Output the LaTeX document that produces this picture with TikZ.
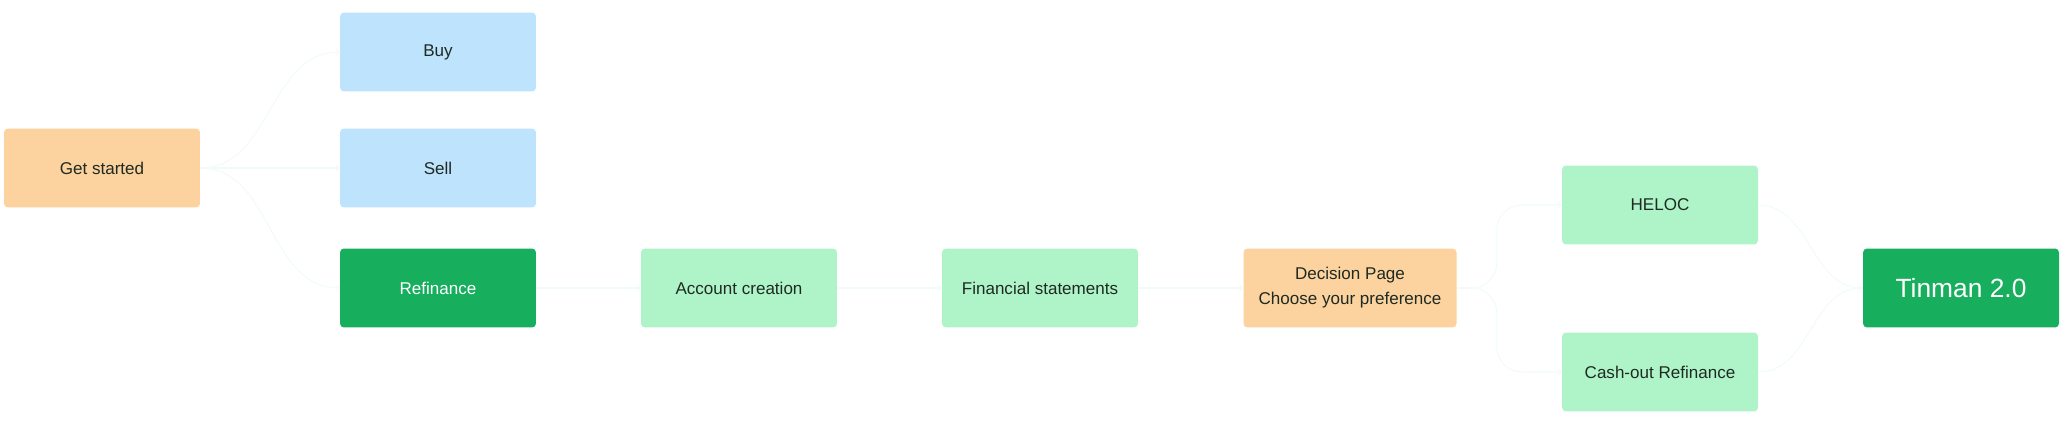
\documentclass[tikz,border=0pt]{standalone}
\usepackage{fontspec}
\setmainfont{Liberation Sans}
\usetikzlibrary{arrows,shapes,calc}

\definecolor{peach}{HTML}{FCD29E}
\definecolor{skyblue}{HTML}{BEE3FD}
\definecolor{mint}{HTML}{AFF4C8}
\definecolor{leaf}{HTML}{17AF5E}
\definecolor{ink}{HTML}{1E2A22}
\definecolor{linkcol}{HTML}{F1FBF8}

\tikzset{
    box/.style={rectangle, rounded corners=0.08cm, minimum width=3.92cm,
        minimum height=1.58cm, align=center, text=ink,
        font=\fontsize{9.7}{14.3}\selectfont},
    startbox/.style={box, fill=peach},
    choice/.style={box, fill=skyblue},
    picked/.style={box, fill=leaf, text=white},
    stepbox/.style={box, fill=mint},
    link/.style={draw=linkcol, line width=0.6pt, ->, >=to}
}

\begin{document}
\begin{tikzpicture}[x=0.02cm, y=-0.02cm]
        \useasboundingbox (0,0) rectangle (2064,425);

        % left column
        \node [startbox] (start) at (102,168) {Get started};
        \node [choice] (buy) at (438,52) {Buy};
        \node [choice] (sell) at (438,168) {Sell};
        \node [picked] (refi) at (438,288) {Refinance};

        % main flow
        \node [stepbox] (acct) at (739,288) {Account creation};
        \node [stepbox] (fin) at (1040,288) {Financial statements};
        \node [startbox, minimum width=4.26cm] (decide) at (1350,288)
            {Decision Page\\Choose your preference};
        \node [stepbox] (heloc) at (1660,205) {HELOC};
        \node [stepbox] (cash) at (1660,372) {Cash-out Refinance};
        \node [picked, font=\fontsize{15}{18}\selectfont] (tin) at (1961,288) {Tinman 2.0};

        \draw [link] (start.east) to [out=0, in=180] (buy.west);
        \draw [link] (start.east) -- (sell.west);
        \draw [link] (start.east) to [out=0, in=180] (refi.west);
        \draw [link] (refi) -- (acct);
        \draw [link] (acct) -- (fin);
        \draw [link] (fin) -- (decide);
        \draw [link, rounded corners=0.5cm] (decide.east) -- ++(40,0) |- (heloc.west);
        \draw [link, rounded corners=0.5cm] (decide.east) -- ++(40,0) |- (cash.west);
        \draw [link] (heloc.east) to [out=0, in=180] (tin.west);
        \draw [link] (cash.east) to [out=0, in=180] (tin.west);
    \end{tikzpicture}
\end{document}
